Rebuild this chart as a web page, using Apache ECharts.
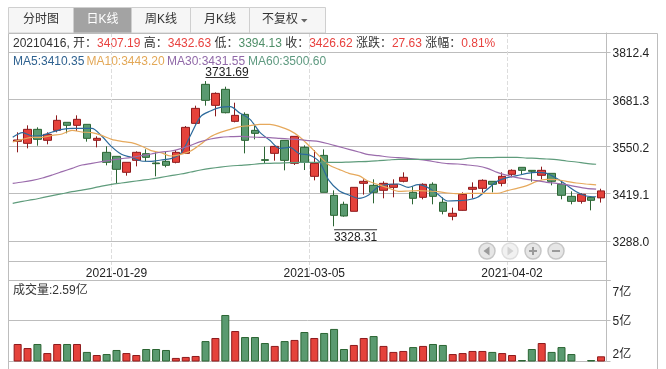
<!DOCTYPE html>
<html>
<head>
<meta charset="utf-8">
<style>
html,body{margin:0;padding:0;background:#fff;}
#chart{width:666px;height:369px;}
</style>
<script src="https://cdn.jsdelivr.net/npm/echarts@6/dist/echarts.min.js"></script>
</head>
<body>
<div id="chart"></div>
<script>
var FONT = '"Liberation Sans","Noto Sans CJK SC",sans-serif';

var dates = [
  '2021-01-15','2021-01-18','2021-01-19','2021-01-20','2021-01-21','2021-01-22','2021-01-25','2021-01-26','2021-01-27','2021-01-28',
  '2021-01-29','2021-02-01','2021-02-02','2021-02-03','2021-02-04','2021-02-05','2021-02-08','2021-02-09','2021-02-10','2021-02-18',
  '2021-02-19','2021-02-22','2021-02-23','2021-02-24','2021-02-25','2021-02-26','2021-03-01','2021-03-02','2021-03-03','2021-03-04',
  '2021-03-05','2021-03-08','2021-03-09','2021-03-10','2021-03-11','2021-03-12','2021-03-15','2021-03-16','2021-03-17','2021-03-18',
  '2021-03-19','2021-03-22','2021-03-23','2021-03-24','2021-03-25','2021-03-26','2021-03-29','2021-03-30','2021-03-31','2021-04-01',
  '2021-04-02','2021-04-06','2021-04-07','2021-04-08','2021-04-09','2021-04-12','2021-04-13','2021-04-14','2021-04-15','2021-04-16'
];

// open, close, low, high
var candles = [
  [3564.3,3568.0,3533.7,3589.3],[3558.7,3597.6,3544.8,3608.7],[3597.6,3569.8,3552.2,3603.2],[3567.1,3583.7,3556.0,3589.3],
  [3594.8,3622.6,3589.3,3636.5],[3617.1,3608.7,3586.5,3617.1],[3608.7,3625.4,3593.0,3636.5],[3611.5,3572.6,3563.4,3611.5],
  [3567.1,3572.6,3547.6,3578.2],[3533.7,3506.0,3497.6,3550.4],[3522.6,3486.5,3447.6,3522.6],[3478.2,3506.0,3468.9,3506.0],
  [3511.5,3533.7,3494.8,3536.5],[3530.0,3519.8,3508.7,3542.1],[3504.1,3502.2,3467.1,3533.7],[3508.7,3497.6,3492.1,3536.5],
  [3505.9,3533.7,3503.1,3540.1],[3530.9,3603.1,3529.0,3606.8],[3614.2,3655.9,3611.4,3663.3],[3722.6,3678.1,3663.3,3731.69],
  [3664.2,3697.5,3633.7,3700.3],[3708.7,3643.8,3642.0,3716.1],[3619.8,3636.4,3617.0,3671.6],[3639.2,3567.0,3530.9,3644.8],
  [3594.8,3586.4,3569.8,3606.8],[3513.3,3511.4,3503.1,3549.4],[3530.9,3550.3,3510.5,3550.3],[3567.0,3511.4,3483.7,3567.0],
  [3503.1,3578.1,3498.5,3578.1],[3547.6,3505.9,3484.6,3553.1],[3467.0,3503.1,3455.9,3540.1],[3525.3,3422.6,3422.6,3542.0],
  [3414.2,3358.7,3328.31,3428.1],[3389.3,3356.9,3355.0,3396.7],[3369.9,3436.5,3369.9,3436.5],[3447.6,3453.2,3416.2,3458.7],
  [3442.1,3422.6,3392.1,3458.7],[3428.2,3447.6,3406.0,3453.2],[3436.5,3444.9,3408.7,3458.7],[3453.2,3464.3,3450.4,3478.2],
  [3422.6,3406.0,3389.3,3439.3],[3408.7,3444.9,3403.2,3447.6],[3444.9,3411.5,3389.3,3450.4],[3394.9,3369.9,3361.5,3408.7],
  [3356.0,3364.3,3344.9,3380.0],[3372.6,3417.1,3371.7,3422.6],[3431.0,3436.5,3406.0,3450.4],[3433.7,3456.0,3422.6,3458.7],
  [3453.2,3444.9,3422.6,3453.2],[3447.6,3467.1,3439.3,3478.2],[3472.6,3483.7,3464.3,3486.5],[3492.1,3483.7,3472.6,3492.1],
  [3483.7,3481.0,3452.3,3483.7],[3469.9,3483.7,3458.7,3493.9],[3475.4,3453.2,3442.1,3475.4],[3444.9,3414.3,3403.2,3456.0],
  [3411.5,3397.6,3389.3,3425.4],[3397.6,3417.1,3391.2,3419.9],[3408.7,3400.4,3372.6,3411.5],[3407.19,3426.62,3394.13,3432.63]
];

var ma5 = [3575.4,3588.4,3579.1,3580.9,3590.2,3597.6,3600.4,3600.4,3600.4,3579.1,3549.5,3528.2,3519.8,3509.6,3508.7,3512.4,
  3516.1,3531.0,3581.9,3632.8,3648.5,3658.7,3660.6,3642.1,3625.4,3589.3,3567.1,3544.8,3547.6,3530.0,3526.3,3507.8,3455.0,
  3427.3,3415.2,3406.0,3415.2,3438.4,3444.9,3445.8,3436.5,3443.9,3435.6,3417.1,3398.6,3399.5,3401.3,3408.7,3431.0,3453.2,
  3463.4,3468.9,3475.4,3478.2,3475.4,3461.5,3443.0,3424.5,3412.4,3410.35];
var ma10 = [3562.4,3569.8,3575.4,3575.4,3580.9,3584.7,3594.8,3590.2,3588.4,3580.9,3569.8,3564.3,3560.6,3551.3,3538.4,3532.8,
  3523.5,3528.2,3537.4,3556.0,3577.2,3589.3,3597.6,3605.0,3607.8,3611.5,3611.5,3605.0,3594.8,3577.2,3551.3,3523.5,3498.5,
  3486.5,3475.4,3468.9,3453.2,3443.9,3434.7,3425.4,3426.3,3427.3,3426.3,3424.5,3420.8,3418.9,3419.9,3419.9,3419.9,3419.9,
  3427.3,3433.7,3441.2,3453.2,3458.7,3457.8,3453.2,3448.6,3445.8,3443.20];
var ma30 = [3447.6,3451.3,3456.0,3462.4,3470.8,3480.0,3489.3,3498.5,3503.2,3507.8,3512.4,3516.1,3519.8,3524.5,3529.1,3534.6,
  3537.4,3543.9,3553.2,3563.4,3570.8,3575.4,3577.2,3578.2,3576.3,3575.4,3574.5,3572.6,3570.8,3568.9,3566.1,3563.4,3556.9,
  3549.5,3542.1,3534.7,3527.3,3524.5,3520.8,3518.9,3517.1,3514.3,3510.6,3506.0,3502.3,3501.3,3498.6,3495.8,3489.3,3478.2,
  3469.9,3463.4,3458.7,3455.0,3450.4,3447.6,3443.9,3438.4,3433.7,3431.55];
var ma60 = [3392.0,3397.5,3402.2,3407.7,3413.3,3418.8,3424.4,3429.0,3433.7,3440.1,3444.8,3448.5,3452.2,3455.9,3459.6,3464.2,
  3468.9,3473.5,3479.0,3484.6,3489.2,3492.9,3495.7,3497.6,3499.4,3502.2,3503.1,3504.0,3505.0,3505.9,3505.9,3505.9,3505.9,
  3505.9,3506.8,3507.7,3508.7,3510.5,3512.4,3514.2,3514.2,3514.2,3514.2,3514.2,3514.2,3514.2,3517.0,3518.8,3518.8,3519.8,
  3519.8,3519.8,3517.9,3517.0,3515.2,3513.3,3509.6,3506.8,3503.1,3500.60];

// 成交量，单位：亿
var volumes = [3.35,3.10,3.35,2.79,3.35,3.35,3.35,2.86,2.67,2.73,2.98,2.79,2.67,3.04,3.04,2.98,2.49,2.55,2.61,3.53,
  3.72,5.14,4.15,3.78,3.78,3.41,3.23,3.53,3.60,4.09,3.72,4.03,4.28,3.04,3.29,3.72,3.84,3.23,2.86,2.92,
  3.16,3.23,3.35,3.29,2.73,2.79,2.92,2.92,2.86,2.79,2.67,2.36,3.04,3.41,2.86,3.16,2.73,2.31,2.36,2.59];

var priceTicks = [3288.0,3419.1,3550.2,3681.3,3812.4];
var volumeTicks = [2.3,4.8,7.3];
var labelDates = ['2021-01-29','2021-03-05','2021-04-02'];
var tabNames = ['分时图','日K线','周K线','月K线','不复权'];
var tabEdges = [8.5,73.5,131.5,190.5,249.5,325.5];

var PRICE_MIN = 3179.1, PRICE_MAX = 3865.2;
var VOL_MIN = 2.3, VOL_MAX = 7.3;
var RED = '#e5423b', RED_DARK = '#8e1a1c', GREEN = '#5a9a70', GREEN_DARK = '#2b6533';
var FRAME = '#bdbdbd';
var maColors = ['#2c6a9c','#e6a95c','#9b6cac','#5f9c7c'];

// 均线的点落在每根K线左侧，多留一个空类目
var lineDates = dates.concat(['']);

function frameLine(x1, y1, x2, y2) {
  return {type:'line', silent:true, z:1, shape:{x1:x1,y1:y1,x2:x2,y2:y2}, style:{stroke:FRAME,lineWidth:1}};
}

function buildGraphic() {
  var list = [
    frameLine(8.5,33.5,657.5,33.5),
    frameLine(8.5,33.5,8.5,369),
    frameLine(657.5,33.5,657.5,369),
    frameLine(8.5,261.5,606.5,261.5),
    frameLine(8.5,280.5,610.5,280.5)
  ];
  // 顶部按钮
  tabNames.forEach(function (name, i) {
    var active = i === 1;
    var x = tabEdges[i], w = tabEdges[i + 1] - x;
    list.push({type:'rect', silent:true, shape:{x:x,y:7.5,width:w,height:25.5},
      style:{fill:active ? '#a3a3a3' : '#f6f6f6', stroke:'#cfcfcf', lineWidth:1}});
    list.push({type:'text', silent:true, x:i === 4 ? 280 : x + w / 2 , y:20,
      style:{text:name, fill:active ? '#fff' : '#333', font:'12px ' + FONT, align:'center', verticalAlign:'middle'}});
  });
  list.push({type:'polygon', silent:true, shape:{points:[[301,19],[307.5,19],[304.2,22.5]]}, style:{fill:'#666'}});

  // 当日行情
  var last = candles[candles.length - 1];
  list.push({type:'text', silent:true, x:13, y:44, style:{
    text:'20210416, 开：{r|' + last[0] + '} 高：{r|' + last[3] + '} 低：{g|' + last[2] + '} 收：{r|' + last[1] + '} 涨跌：{r|27.63} 涨幅：{r|0.81%}',
    font:'12px ' + FONT, fill:'#333', verticalAlign:'middle',
    rich:{r:{fill:'#e8423f',font:'12px ' + FONT}, g:{fill:'#4f8f68',font:'12px ' + FONT}}
  }});
  // 均线数值
  var maTexts = ['MA5:' + ma5[59].toFixed(2), 'MA10:' + ma10[59].toFixed(2), 'MA30:' + ma30[59].toFixed(2), 'MA60:' + ma60[59].toFixed(2)];
  var maTextColors = ['#2f6290','#e3a857','#9068a8','#5f9a80'];
  [13,86.5,167,248].forEach(function (x, i) {
    list.push({type:'text', silent:true, x:x, y:61.5, style:{
      text:maTexts[i], fill:maTextColors[i], font:'12px ' + FONT, verticalAlign:'middle'
    }});
  });
  list.push({type:'text', silent:true, x:13, y:290.5, style:{
    text:'成交量:' + volumes[59] + '亿', font:'12px ' + FONT, fill:'#333', verticalAlign:'middle'
  }});

  // 缩放平移按钮
  [487,510,533,556].forEach(function (cx, i) {
    list.push({type:'circle', silent:true, z:5, shape:{cx:cx,cy:251,r:8},
      style:{fill:i === 1 ? '#f1f1f1' : '#e6e6e6', stroke:i === 1 ? '#dedede' : '#c6c6c6', lineWidth:1.5}});
  });
  list.push({type:'polygon', silent:true, z:6, shape:{points:[[483.5,251],[489.5,246.5],[489.5,255.5]]}, style:{fill:'#9b9b9b'}});
  list.push({type:'polygon', silent:true, z:6, shape:{points:[[513.5,251],[507.5,246.5],[507.5,255.5]]}, style:{fill:'#d2d2d2'}});
  list.push({type:'rect', silent:true, z:6, shape:{x:529,y:250,width:8,height:2}, style:{fill:'#9b9b9b'}});
  list.push({type:'rect', silent:true, z:6, shape:{x:532,y:247,width:2,height:8}, style:{fill:'#9b9b9b'}});
  list.push({type:'rect', silent:true, z:6, shape:{x:552,y:250,width:8,height:2}, style:{fill:'#9b9b9b'}});
  return list;
}

function maSeries(name, data, color) {
  return {
    name:name, type:'line', xAxisIndex:2, yAxisIndex:1, data:data,
    showSymbol:false, symbol:'none', smooth:0.3, silent:true, z:4,
    lineStyle:{color:color,width:1.2}
  };
}

function extremePoint(index, price, above) {
  return {
    coord:[index, price], value:price,
    symbol:'rect', symbolSize:[43,1], symbolOffset:[21.5, above ? -3.5 : 3.5],
    itemStyle:{color:'#333'},
    label:{show:true, position:above ? 'top' : 'bottom', distance:above ? -2 : 1, color:'#222',
      fontSize:12, fontFamily:FONT, formatter:function () { return price.toFixed(2); }}
  };
}

// 量柱颜色跟随当日K线涨跌
var volumeBars = volumes.map(function (v, i) {
  var up = candles[i][1] >= candles[i][0];
  return {value:v, itemStyle:{color:up ? RED : GREEN, borderColor:up ? RED_DARK : GREEN_DARK, borderWidth:1}};
});

var myChart = echarts.init(document.getElementById('chart'), null, {renderer:'canvas'});

var option = {
  animation:false,
  backgroundColor:'#fff',
  textStyle:{fontFamily:FONT},
  graphic:buildGraphic(),
  grid:[
    {left:8.5, width:598, top:33, height:247},
    {left:12.7, width:593.3, top:33, height:247},
    {left:8.5, width:598, top:280, height:81},
    {left:12.7, width:593.3, top:280, height:81}
  ],
  xAxis:[
    {type:'category', gridIndex:0, data:dates, show:false},
    {type:'category', gridIndex:1, data:dates,
      axisLine:{show:false}, axisTick:{show:false},
      axisLabel:{inside:true, margin:0, color:'#222', fontSize:12, fontFamily:FONT, hideOverlap:false,
        interval:function (i, v) { return labelDates.indexOf(v) >= 0; }},
      splitLine:{show:true, lineStyle:{color:'#dddddd',type:'dashed',width:1},
        interval:function (i, v) { return labelDates.indexOf(v) >= 0; }}},
    {type:'category', gridIndex:1, data:lineDates, boundaryGap:false, show:false},
    {type:'category', gridIndex:2, data:dates, show:false},
    {type:'category', gridIndex:3, data:dates, show:false}
  ],
  yAxis:[
    {type:'value', gridIndex:0, position:'right', min:PRICE_MIN, max:PRICE_MAX, scale:true,
      axisLine:{show:true, lineStyle:{color:FRAME}},
      axisTick:{show:true, length:4, lineStyle:{color:FRAME}, customValues:priceTicks},
      axisLabel:{margin:6, customValues:priceTicks,
        formatter:function (v) { return '{a|' + v.toFixed(1) + '}'; },
        rich:{a:{color:'#222',fontSize:12,fontFamily:FONT,padding:[4,0,0,0]}}},
      splitLine:{show:true, lineStyle:{color:FRAME,width:1}}},
    {type:'value', gridIndex:1, min:PRICE_MIN, max:PRICE_MAX, scale:true, show:false},
    {type:'value', gridIndex:2, position:'right', min:VOL_MIN, max:VOL_MAX, scale:true,
      axisLine:{show:true, lineStyle:{color:FRAME}},
      axisTick:{show:true, length:4, lineStyle:{color:FRAME}, customValues:volumeTicks},
      axisLabel:{margin:6, customValues:volumeTicks,
        verticalAlignMinLabel:'bottom', verticalAlignMaxLabel:'top',
        formatter:function (v) {
          var text = Math.round(v) + '亿';
          if (v > 7) return '{top|' + text + '}';
          return v > 3 ? '{mid|' + text + '}' : '{low|' + text + '}';
        },
        rich:{
          top:{color:'#222',fontSize:12,fontFamily:FONT,padding:[7,0,0,0]},
          mid:{color:'#222',fontSize:12,fontFamily:FONT,padding:[3,0,0,0]},
          low:{color:'#222',fontSize:12,fontFamily:FONT}
        }},
      splitLine:{show:true, lineStyle:{color:FRAME,width:1}}},
    {type:'value', gridIndex:3, min:VOL_MIN, max:VOL_MAX, scale:true, show:false}
  ],
  series:[
    {
      name:'日K', type:'candlestick', xAxisIndex:1, yAxisIndex:1, data:candles, barWidth:8, z:3, silent:true,
      itemStyle:{color:RED, color0:GREEN, borderColor:RED_DARK, borderColor0:GREEN_DARK, borderWidth:1},
      markPoint:{silent:true, animation:false, data:[extremePoint(19,3731.69,true), extremePoint(32,3328.31,false)]}
    },
    maSeries('MA5',ma5,maColors[0]),
    maSeries('MA10',ma10,maColors[1]),
    maSeries('MA30',ma30,maColors[2]),
    maSeries('MA60',ma60,maColors[3]),
    {
      name:'成交量', type:'bar', xAxisIndex:4, yAxisIndex:3, data:volumeBars, barWidth:8, silent:true
    }
  ]
};

myChart.setOption(option);
</script>
</body>
</html>
